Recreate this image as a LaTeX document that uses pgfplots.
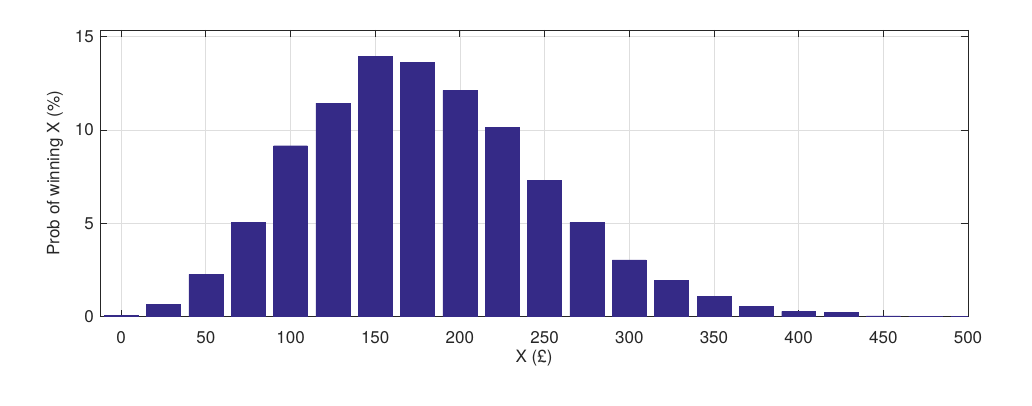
\documentclass[border=0pt]{standalone}
\usepackage{fontspec}
\setmainfont{TeX Gyre Heros}
\usepackage{pgfplots}
\pgfplotsset{compat=1.18}
\definecolor{barcol}{RGB}{53,42,135}
\definecolor{axcol}{RGB}{38,38,38}
\definecolor{gridcol}{RGB}{222,222,222}

\begin{document}
\begin{tikzpicture}
\begin{axis}[
  scale only axis,
  width=868pt, height=286.7pt,
  xmin=-12.5, xmax=500, ymin=0, ymax=15.36,
  xtick={0,50,...,500}, ytick={0,5,10,15},
  tick align=inside, major tick length=7pt,
  grid=major, major grid style={gridcol, line width=0.8pt},
  axis line style={axcol, line width=0.9pt},
  every tick/.style={axcol, line width=0.9pt},
  tick label style={font=\fontsize{17}{20}\selectfont, text=axcol},
  xticklabel style={yshift=-11pt},
  yticklabel style={xshift=-2.6pt},
  xlabel={X (£)}, ylabel={Prob of winning X (\%)},
  every axis x label/.style={at={(axis description cs:0.5,-0.143)}, anchor=center,
    font=\fontsize{17}{20}\selectfont, text=axcol},
  every axis y label/.style={at={(axis description cs:-0.0518,0.5)}, anchor=center, rotate=90,
    font=\fontsize{17}{20}\selectfont, text=axcol},
  /pgf/number format/assume math mode=true,
]
\addplot[ybar, bar width=20, fill=barcol, draw=barcol] coordinates {
  (0,0.07) (25,0.68) (50,2.27) (75,5.07) (100,9.16) (125,11.44)
  (150,13.96) (175,13.61) (200,12.12) (225,10.16) (250,7.32)
  (275,5.05) (300,3.05) (325,1.95) (350,1.09) (375,0.54)
  (400,0.29) (425,0.25) (450,0.05) (475,0.035) (500,0.02)
};
\end{axis}
\path[use as bounding box] ([shift={(-100pt,-89.3pt)}]current axis.south west) rectangle ++(1032pt,406pt);
\end{tikzpicture}
\end{document}
